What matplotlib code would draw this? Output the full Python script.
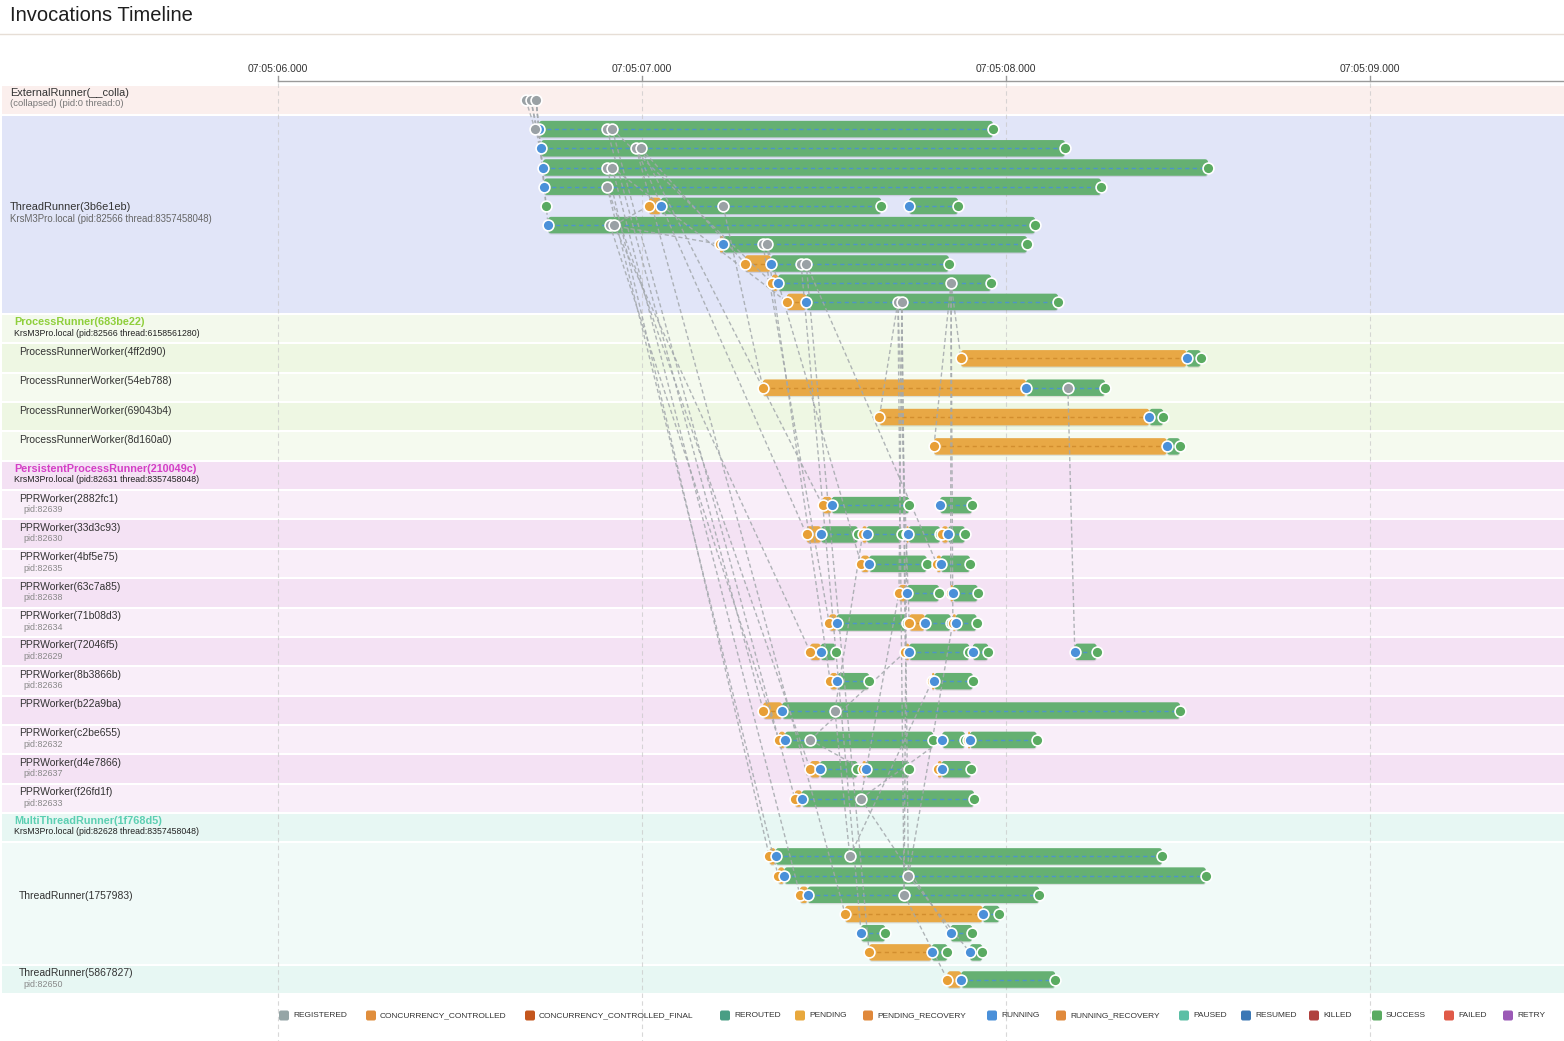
import matplotlib
matplotlib.use("Agg")
import matplotlib.pyplot as plt
from matplotlib.patches import FancyBboxPatch, Rectangle

plt.rcParams['font.family'] = ['Liberation Sans', 'DejaVu Sans']

# ======================= DATA (times in ms after 07:05:06.000) =======================
TITLE = "Invocations Timeline"
TICK_MS = [0, 1000, 2000, 3000]
TICK_LABELS = ["07:05:06.000", "07:05:07.000", "07:05:08.000", "07:05:09.000"]

EXT_LABEL = "ExternalRunner(__colla)"
EXT_SUB = "(collapsed) (pid:0 thread:0)"
EXT_REGISTERED = [681, 695, 709]

TR_LABEL = "ThreadRunner(3b6e1eb)"
TR_SUB = "KrsM3Pro.local (pid:82566 thread:8357458048)"
# segments: (pending_start, running_start, end)
TR_SEGMENTS = [
    [(None, 717, 1964)],
    [(None, 723, 2162)],
    [(None, 728, 2555)],
    [(None, 731, 2261)],
    [(None, None, 736), (1019, 1052, 1657), (None, 1734, 1868)],
    [(None, 742, 2080)],
    [(1214, 1223, 2058)],
    [(1283, 1354, 1843)],
    [(1357, 1374, 1959)],
    [(1398, 1451, 2143)],
]
TR_REGISTERED = [[706, 904, 918], [984, 997], [904, 918], [904], [1223],
                 [912, 923], [1332, 1343], [1437, 1451], [1849], [1703, 1714]]

PR_LABEL = "ProcessRunner(683be22)"
PR_SUB = "KrsM3Pro.local (pid:82566 thread:6158561280)"
PR_WORKERS = ["ProcessRunnerWorker(4ff2d90)", "ProcessRunnerWorker(54eb788)",
              "ProcessRunnerWorker(69043b4)", "ProcessRunnerWorker(8d160a0)"]
PR_SEGMENTS = [[(1876, 2496, 2535)], [(1332, 2055, 2272)],
               [(1652, 2394, 2432)], [(1802, 2442, 2478)]]
PR_REGISTERED = [[], [2170], [], []]

PPR_LABEL = "PersistentProcessRunner(210049c)"
PPR_SUB = "KrsM3Pro.local (pid:82631 thread:8357458048)"
PPR_WORKERS = ["PPRWorker(2882fc1)", "PPRWorker(33d3c93)", "PPRWorker(4bf5e75)",
               "PPRWorker(63c7a85)", "PPRWorker(71b08d3)", "PPRWorker(72046f5)",
               "PPRWorker(8b3866b)", "PPRWorker(b22a9ba)", "PPRWorker(c2be655)",
               "PPRWorker(d4e7866)", "PPRWorker(f26fd1f)"]
PPR_PIDS = ["pid:82639", "pid:82630", "pid:82635", "pid:82638", "pid:82634",
            "pid:82629", "pid:82636", "", "pid:82632", "pid:82637", "pid:82633"]
PPR_SEGMENTS = [
    [(1496, 1521, 1734), (None, 1819, 1907)],
    [(1452, 1492, 1593), (1606, 1617, 1713), (1727, 1732, 1819), (1824, 1841, 1887)],
    [(1602, 1624, 1782), (1810, 1821, 1901)],
    [(1706, 1728, 1816), (1848, 1854, 1922)],
    [(1514, 1535, 1727), (1734, 1777, 1848), (1854, 1862, 1919)],
    [(1462, 1491, 1532), (1723, 1734, 1899), (None, 1909, 1951), (None, 2189, 2249)],
    [(1517, 1537, 1624), (1797, 1803, 1909)],
    [(1333, 1385, 2478)],
    [(1376, 1393, 1800), (None, 1825, 1887), (1896, 1901, 2084)],
    [(1462, 1489, 1592), (1606, 1615, 1734), (1813, 1823, 1904)],
    [(1420, 1439, 1912)],
]
PPR_REGISTERED = [[], [], [], [], [], [], [], [1530], [1462], [], [1601]]

MTR_LABEL = "MultiThreadRunner(1f768d5)"
MTR_SUB = "KrsM3Pro.local (pid:82628 thread:8357458048)"
MT1_LABEL = "ThreadRunner(1757983)"
MT1_SEGMENTS = [
    [(1350, 1367, 2429)],
    [(1374, 1391, 2549)],
    [(1434, 1455, 2091)],
    [(1558, 1936, 1982)],
    [(None, 1602, 1668), (None, 1848, 1907)],
    [(1624, 1796, 1839), (None, 1901, 1935)],
]
MT1_REGISTERED = [[1571], [1732], [1720], [], [], []]
MT2_LABEL = "ThreadRunner(5867827)"
MT2_SUB = "pid:82650"
MT2_SEGMENTS = [[(1839, 1877, 2135)]]
MT2_REGISTERED = [[]]

# dependency links: (source row, source ms, target row, target ms)
EDGES = [
    ("EXT", 681, "TR0", 706), ("EXT", 695, "TR1", 723), ("EXT", 695, "TR2", 728),
    ("EXT", 709, "TR3", 731), ("EXT", 709, "TR4", 736), ("EXT", 709, "TR5", 742),
    ("TR5", 923, "TR4", 1019), ("TR5", 912, "TR6", 1214),
    ("TR1", 997, "TR7", 1283), ("TR0", 918, "TR8", 1357), ("TR2", 918, "TR9", 1398),
    ("TR4", 1223, "PR1", 1332),
    ("TR0", 904, "PPR7", 1333), ("TR2", 904, "MT0", 1350), ("TR3", 904, "MT1", 1374),
    ("TR5", 912, "PPR8", 1376), ("TR0", 918, "PPR10", 1420), ("TR2", 918, "MT2", 1434),
    ("TR1", 984, "PPR1", 1452), ("TR5", 923, "PPR5", 1462), ("TR3", 904, "PPR9", 1462),
    ("TR1", 997, "PPR0", 1496), ("TR6", 1332, "PPR4", 1514), ("TR6", 1343, "PPR6", 1517),
    ("TR1", 984, "MT3", 1558), ("TR7", 1437, "MT4", 1602), ("TR7", 1451, "MT5", 1624),
    ("TR6", 1343, "PPR2", 1602),
    ("TR9", 1703, "PR2", 1652), ("TR8", 1849, "PR0", 1876), ("TR8", 1849, "PR3", 1802),
    ("TR9", 1714, "PPR3", 1706), ("TR9", 1703, "PPR4", 1734), ("TR9", 1714, "PPR5", 1723),
    ("TR9", 1714, "MT1", 1732), ("TR9", 1703, "MT2", 1720),
    ("TR8", 1849, "PPR3", 1848), ("TR8", 1849, "PPR4", 1854),
    ("PPR7", 1530, "PPR1", 1606), ("PPR8", 1462, "PPR9", 1606), ("MT2", 1720, "PPR1", 1727),
    ("MT1", 1732, "PPR4", 1854), ("MT0", 1571, "PPR6", 1797), ("PR1", 2170, "PPR5", 2189),
    ("PPR10", 1601, "MT4", 1848), ("PPR7", 1530, "MT0", 1571), ("PPR8", 1462, "PPR5", 1723),
    ("PPR10", 1601, "PPR3", 1706), ("TR7", 1451, "PPR2", 1810), ("MT1", 1732, "MT5", 1901),
    ("MT2", 1720, "MT6", 1839), ("PPR10", 1601, "PPR8", 1825),
]

LEGEND_NAMES = ["REGISTERED", "CONCURRENCY_CONTROLLED", "CONCURRENCY_CONTROLLED_FINAL",
                "REROUTED", "PENDING", "PENDING_RECOVERY", "RUNNING", "RUNNING_RECOVERY",
                "PAUSED", "RESUMED", "KILLED", "SUCCESS", "FAILED", "RETRY"]
LEGEND_COLORS = ["#95a5a6", "#e08e3c", "#c4561d", "#4a9e84", "#e8a83d", "#e0883a",
                 "#4a90d9", "#e08a3c", "#5cbfa5", "#3c78b5", "#b0413e", "#5aab61",
                 "#e05a48", "#9b59b6"]

# ======================= STYLE / LAYOUT =======================
W, H, DPI = 1564, 1041, 100
X0_PX = 278.0
PX_PER_S = 364.0
MS_PER_PX = 1000.0 / PX_PER_S
LEGEND_X_PX = [279, 366, 525, 720, 795, 863, 987, 1056, 1179, 1241, 1309, 1372, 1444, 1503]

C_GREEN = "#65b072"
C_ORANGE = "#e8a845"
C_BLUE = "#4a90d9"
C_GREY = "#9aa1a5"
C_END = "#5aab61"
C_PEND_MARK = "#e89f35"


def px2ms(px):
    return (px - X0_PX) * MS_PER_PX


fig = plt.figure(figsize=(W / DPI, H / DPI), dpi=DPI)
fig.patch.set_facecolor("white")
ax = fig.add_axes([0, 0, 1, 1])
ax.set_xlim(px2ms(0), px2ms(W))
ax.set_ylim(H, 0)
ax.axis("off")

# title & separator
ax.text(px2ms(10), 15.5, TITLE, fontsize=14.5, color="#1e1e1e", va="center", ha="left")
ax.plot([px2ms(0), px2ms(W)], [34, 34], color="#e6ded6", lw=1.0, zorder=1)

# top time axis
axis_y = 81
ax.plot([TICK_MS[0], px2ms(W)], [axis_y, axis_y], color="#9a9a9a", lw=1.0, zorder=3)
for t, lab in zip(TICK_MS, TICK_LABELS):
    ax.plot([t, t], [axis_y - 5, axis_y], color="#9a9a9a", lw=1.0, zorder=3)
    ax.text(t, 69.5, lab, fontsize=7.5, color="#333333", ha="center", va="center")
    ax.plot([t, t], [axis_y + 2, H], color="#c8c8c8", lw=0.8, ls=(0, (4, 3)),
            alpha=0.7, zorder=1.5)

ROW_PITCH = 19.2
SINGLE_H = 27.35
GAP = 2.0
BAR_H = 16.5
BAND_X0 = px2ms(2)
BAND_X1 = px2ms(W)

row_y = {}
row_data = []  # (y, segments, registered)


def band(top, h, color):
    ax.add_patch(Rectangle((BAND_X0, top), BAND_X1 - BAND_X0, h, fc=color, ec="none", zorder=0))


def label(px, y, s, size=7.6, color="#333333", weight="normal"):
    ax.text(px2ms(px), y, s, fontsize=size, color=color, fontweight=weight, ha="left", va="center")


y = 86.0
# External runner (single row)
band(y, 28.0, "#fbefed")
label(10, y + 7.5, EXT_LABEL, size=7.9)
label(10, y + 18, EXT_SUB, size=6.8, color="#777777")
row_y["EXT"] = y + 14
row_data.append((y + 14, [], EXT_REGISTERED))
y += 28.0 + GAP

# ThreadRunner multi rows
h = 7 + len(TR_SEGMENTS) * ROW_PITCH - 2
band(y, h, "#e1e5f8")
label(10, y + h / 2 - 7, TR_LABEL, size=7.9)
label(10, y + h / 2 + 4, TR_SUB, size=6.9, color="#666666")
for i, (segs, regs) in enumerate(zip(TR_SEGMENTS, TR_REGISTERED)):
    yc = y + 13.1 + i * ROW_PITCH
    row_y["TR%d" % i] = yc
    row_data.append((yc, segs, regs))
y += h + GAP


def header(title, sub, tcolor, bg):
    global y
    band(y, SINGLE_H, bg)
    label(14, y + 7, title, size=7.8, color=tcolor, weight="bold")
    label(14, y + 18, sub, size=6.3, color="#222222")
    y += SINGLE_H + GAP


def worker(key, name, sub, segs, regs, bg):
    global y
    band(y, SINGLE_H, bg)
    label(19, y + 7.5, name, size=7.5)
    if sub:
        label(23, y + 18.5, sub, size=6.4, color="#888888")
    row_y[key] = y + 14
    row_data.append((y + 14, segs, regs))
    y += SINGLE_H + GAP


header(PR_LABEL, PR_SUB, "#8fcf3c", "#f3f9ec")
for i, (n, s, r) in enumerate(zip(PR_WORKERS, PR_SEGMENTS, PR_REGISTERED)):
    worker("PR%d" % i, n, "", s, r, "#eef7e3" if i % 2 == 0 else "#f5faef")

header(PPR_LABEL, PPR_SUB, "#d43fc6", "#f4e1f4")
for i, (n, p, s, r) in enumerate(zip(PPR_WORKERS, PPR_PIDS, PPR_SEGMENTS, PPR_REGISTERED)):
    worker("PPR%d" % i, n, p, s, r, "#f9eef9" if i % 2 == 0 else "#f4e2f4")

header(MTR_LABEL, MTR_SUB, "#5ccfb2", "#e7f7f3")
h = 7 + len(MT1_SEGMENTS) * ROW_PITCH - 2
band(y, h, "#f1faf8")
label(19, y + h / 2 - 7, MT1_LABEL, size=7.5)
for i, (segs, regs) in enumerate(zip(MT1_SEGMENTS, MT1_REGISTERED)):
    yc = y + 13.1 + i * ROW_PITCH
    row_y["MT%d" % i] = yc
    row_data.append((yc, segs, regs))
y += h + GAP
worker("MT6", MT2_LABEL, MT2_SUB, MT2_SEGMENTS[0], MT2_REGISTERED[0], "#e7f7f3")


# ---------------- marks ----------------
def bar(x0, x1, yc, color, dash_color):
    w = max(x1 - x0, 0.6)
    r = min(3.0 * MS_PER_PX, w / 2)
    style = "round,pad=0,rounding_size=%f" % r
    ax.add_patch(FancyBboxPatch((x0, yc - BAR_H / 2 + 1.2), w, BAR_H, boxstyle=style,
                                mutation_aspect=1 / MS_PER_PX, fc="black", ec="none",
                                alpha=0.10, zorder=2))
    ax.add_patch(FancyBboxPatch((x0, yc - BAR_H / 2), w, BAR_H, boxstyle=style,
                                mutation_aspect=1 / MS_PER_PX, fc=color, ec="none", zorder=2.1))
    ax.plot([x0, x1], [yc, yc], color=dash_color, lw=1.0, ls=(0, (3, 2.5)), alpha=0.85,
            zorder=2.2)


def marker(x, yc, color):
    ax.plot([x], [yc], "o", ms=7.8, mfc=color, mec="white", mew=1.2, zorder=6)


for yc, segs, regs in row_data:
    for p, r, e in segs:
        if p is not None and r is not None:
            bar(p, r, yc, C_ORANGE, "#cf8a2a")
        if r is not None:
            bar(r, e, yc, C_GREEN, C_BLUE)

for src, sx, dst, dx in EDGES:
    ax.plot([sx, dx], [row_y[src], row_y[dst]], color="#a3a8ac", lw=1.0,
            ls=(0, (3, 2)), alpha=0.85, zorder=4)

for yc, segs, regs in row_data:
    for p, r, e in segs:
        if p is not None:
            marker(p, yc, C_PEND_MARK)
        if r is not None:
            marker(r, yc, C_BLUE)
        marker(e, yc, C_END)
    for g in regs:
        marker(g, yc, C_GREY)

# ---------------- legend ----------------
ly = 1015.5
for lx, name, col in zip(LEGEND_X_PX, LEGEND_NAMES, LEGEND_COLORS):
    ax.add_patch(FancyBboxPatch((px2ms(lx), ly - 5), 10 * MS_PER_PX, 10,
                                boxstyle="round,pad=0,rounding_size=%f" % (2 * MS_PER_PX),
                                mutation_aspect=1 / MS_PER_PX, fc=col, ec="none", zorder=5))
    ax.text(px2ms(lx + 14), ly, name, fontsize=6.0, color="#333333", ha="left", va="center")

fig.savefig("out.png", dpi=DPI, facecolor="white")
